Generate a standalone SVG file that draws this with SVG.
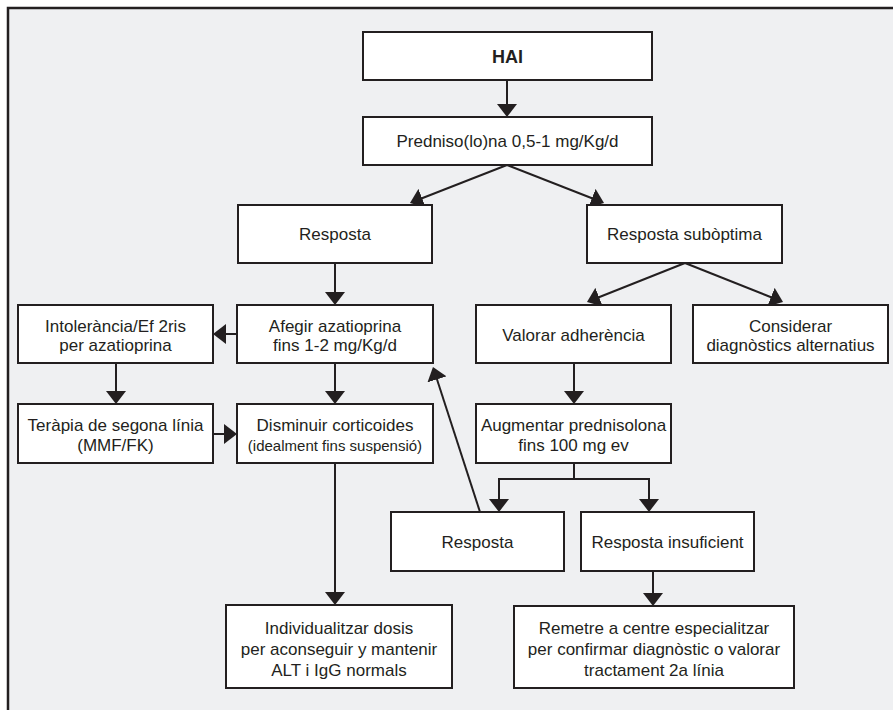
<svg xmlns="http://www.w3.org/2000/svg" width="893" height="710" viewBox="0 0 893 710">
<style>
.box{fill:#ffffff;stroke:#231f20;stroke-width:2}
.t{font-family:"Liberation Sans",Arial,sans-serif;font-size:17px;fill:#231f20;text-anchor:middle}
.s{font-size:15px}
.b{font-weight:bold;font-size:18px}
.c{fill:none;stroke:#231f20;stroke-width:2}
</style>
<defs>
<marker id="ah" markerUnits="userSpaceOnUse" markerWidth="14" markerHeight="20" viewBox="0 0 14 20" refX="9" refY="10" orient="auto">
<path d="M0,0 L13,10 L0,20 Z" fill="#231f20"/>
</marker>
</defs>
<rect x="0" y="0" width="893" height="710" fill="#ffffff"/>
<rect x="8" y="8" width="900" height="720" fill="#eff0f2" stroke="#231f20" stroke-width="2.5"/>

<g id="connectors">
<path class="c" d="M507,80 V113" marker-end="url(#ah)"/>
<path class="c" d="M507,165 L413.7,201.5" marker-end="url(#ah)"/>
<path class="c" d="M507,165 L600.3,201.5" marker-end="url(#ah)"/>
<path class="c" d="M685,263 L590.7,300.5" marker-end="url(#ah)"/>
<path class="c" d="M685,263 L779.3,300.5" marker-end="url(#ah)"/>
<path class="c" d="M335,263 V301" marker-end="url(#ah)"/>
<path class="c" d="M237,334 H217" marker-end="url(#ah)"/>
<path class="c" d="M116,363 V400" marker-end="url(#ah)"/>
<path class="c" d="M335,363 V400" marker-end="url(#ah)"/>
<path class="c" d="M213,434 H233" marker-end="url(#ah)"/>
<path class="c" d="M335,463 V601" marker-end="url(#ah)"/>
<path class="c" d="M574,363 V400" marker-end="url(#ah)"/>
<path class="c" d="M574,463 V479 H499 V508" marker-end="url(#ah)"/>
<path class="c" d="M574,479 H649 V508" marker-end="url(#ah)"/>
<path class="c" d="M480,512 L434.2,370.8" marker-end="url(#ah)"/>
<path class="c" d="M653,571 V602" marker-end="url(#ah)"/>
</g>

<g id="hai"><rect class="box" x="363" y="32" width="289" height="48"/><text class="t b" x="507.5" y="62.5">HAI</text></g>
<g id="prednisona"><rect class="box" x="363" y="117" width="289" height="48"/><text class="t" x="507.5" y="147">Predniso(lo)na 0,5-1 mg/Kg/d</text></g>
<g id="resposta1"><rect class="box" x="238" y="205" width="194" height="58"/><text class="t" x="335" y="240">Resposta</text></g>
<g id="resposta-suboptima"><rect class="box" x="587" y="205" width="195" height="58"/><text class="t" x="684.5" y="240">Resposta subòptima</text></g>
<g id="intolerancia"><rect class="box" x="18" y="305" width="195" height="58"/><text class="t" x="115.5" y="332">Intolerància/Ef 2ris</text><text class="t" x="115.5" y="351">per azatioprina</text></g>
<g id="afegir"><rect class="box" x="237" y="305" width="196" height="58"/><text class="t" x="335" y="332">Afegir azatioprina</text><text class="t" x="335" y="351">fins 1-2 mg/Kg/d</text></g>
<g id="valorar"><rect class="box" x="476" y="305" width="195" height="58"/><text class="t" x="573.5" y="341">Valorar adherència</text></g>
<g id="considerar"><rect class="box" x="693" y="305" width="195" height="58"/><text class="t" x="790.5" y="332">Considerar</text><text class="t" x="790.5" y="351">diagnòstics alternatius</text></g>
<g id="terapia"><rect class="box" x="18" y="404" width="195" height="59"/><text class="t" x="115.5" y="431">Teràpia de segona línia</text><text class="t" x="115.5" y="451">(MMF/FK)</text></g>
<g id="disminuir"><rect class="box" x="237" y="404" width="196" height="59"/><text class="t" x="335" y="431">Disminuir corticoides</text><text class="t s" x="335" y="451">(idealment fins suspensió)</text></g>
<g id="augmentar"><rect class="box" x="476" y="404" width="195" height="59"/><text class="t" x="573.5" y="431">Augmentar prednisolona</text><text class="t" x="573.5" y="451">fins 100 mg ev</text></g>
<g id="resposta2"><rect class="box" x="391" y="512" width="173" height="59"/><text class="t" x="477.5" y="548">Resposta</text></g>
<g id="resposta-insuficient"><rect class="box" x="581" y="512" width="173" height="59"/><text class="t" x="667.5" y="548">Resposta insuficient</text></g>
<g id="individualitzar"><rect class="box" x="226" y="605" width="226" height="83"/><text class="t" x="339" y="634">Individualitzar dosis</text><text class="t" x="339" y="655">per aconseguir y mantenir</text><text class="t" x="339" y="676">ALT i IgG normals</text></g>
<g id="remetre"><rect class="box" x="514" y="606" width="280" height="82"/><text class="t" x="654" y="634">Remetre a centre especialitzar</text><text class="t" x="654" y="655">per confirmar diagnòstic o valorar</text><text class="t" x="654" y="676">tractament 2a línia</text></g>
</svg>
